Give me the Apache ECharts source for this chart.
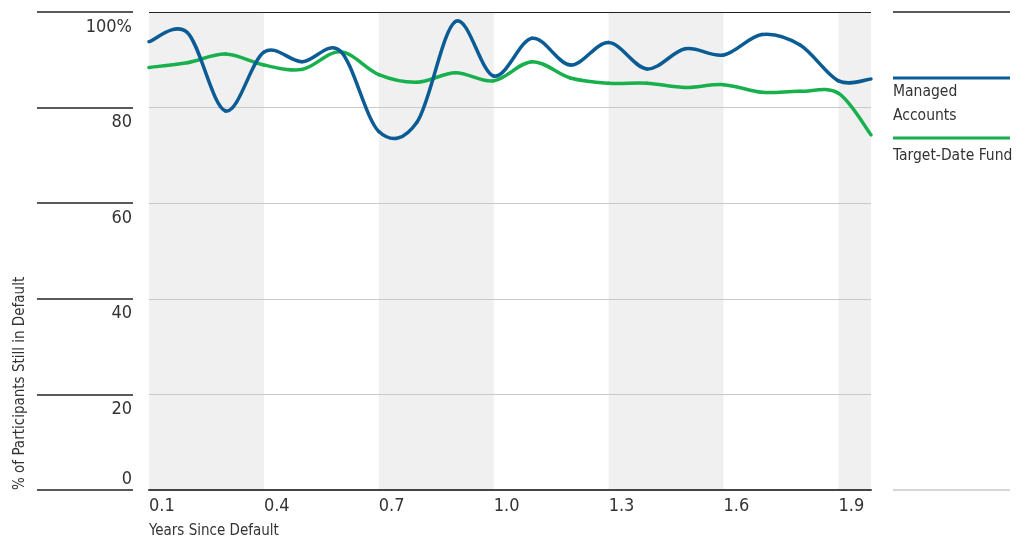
<!DOCTYPE html>
<html>
<head>
<meta charset="utf-8">
<script src="https://cdn.jsdelivr.net/npm/echarts@6/dist/echarts.min.js"></script>
<style>
  html, body { margin: 0; padding: 0; background: #fff; }
  #chart { width: 1024px; height: 542px; }
</style>
</head>
<body>
<div id="chart"></div>
<script>
// Years since default (x positions of the samples)
const years = [0.1, 0.2, 0.3, 0.4, 0.5, 0.6, 0.7, 0.8, 0.9, 1.0,
               1.1, 1.2, 1.3, 1.4, 1.5, 1.6, 1.7, 1.8, 1.9, 1.985];
// % of participants still in default
const managedAccounts = [93.8, 95.7, 79.3, 91.6, 89.6, 91.8, 75.0, 77.0, 98.0, 86.6,
                         94.5, 88.9, 93.6, 88.1, 92.3, 91.0, 95.3, 93.1, 85.6, 86.0];
const targetDateFund  = [88.4, 89.4, 91.2, 88.9, 88.0, 91.7, 86.9, 85.3, 87.3, 85.6,
                         89.6, 86.2, 85.1, 85.1, 84.2, 84.8, 83.2, 83.4, 83.0, 74.3];
const seriesNames = ['Managed\nAccounts', 'Target-Date Fund'];
const seriesColors = ['#0b5c95', '#17b04c'];
const xTitle = 'Years Since Default';
const yTitle = '% of Participants Still in Default';

const FONT = "'Liberation Sans Narrow', 'DejaVu Sans Condensed', sans-serif";
const TXT = '#333';

const chart = echarts.init(document.getElementById('chart'), null, { renderer: 'canvas' });

const pairs = vals => vals.map((v, i) => [years[i], v]);

// Each item draws the Catmull-Rom segment from its point to the next one,
// with all positions taken from the cartesian axes.
function splineSeries(name, vals, color, z) {
  const n = vals.length;
  return {
    name: name, type: 'custom', coordinateSystem: 'cartesian2d',
    xAxisIndex: 0, yAxisIndex: 0, z: z,
    encode: { x: 0, y: 1 },
    data: pairs(vals),
    renderItem: function (params, api) {
      const i = params.dataIndex;
      if (i >= n - 1) return null;
      const P = k => {
        const j = Math.max(0, Math.min(n - 1, k));
        return api.coord([years[j], vals[j]]);
      };
      const p0 = P(i - 1), p1 = P(i), p2 = P(i + 1), p3 = P(i + 2);
      return {
        type: 'bezierCurve',
        shape: {
          x1: p1[0], y1: p1[1],
          cpx1: p1[0] + (p2[0] - p0[0]) / 6, cpy1: p1[1] + (p2[1] - p0[1]) / 6,
          cpx2: p2[0] - (p3[0] - p1[0]) / 6, cpy2: p2[1] - (p3[1] - p1[1]) / 6,
          x2: p2[0], y2: p2[1]
        },
        style: { stroke: color, lineWidth: 3.5, fill: 'none', lineCap: 'round' }
      };
    }
  };
}

const option = {
  animation: false,
  backgroundColor: '#fff',
  grid: [
    // main plot
    { left: 149, top: 12, width: 722, height: 478, outerBoundsMode: 'none', containLabel: false },
    // tick rules and labels on the left
    { left: 37, top: 12, width: 96, height: 478, outerBoundsMode: 'none', containLabel: false },
    // rules framing the legend on the right
    { left: 893, top: 12, width: 117, height: 478, outerBoundsMode: 'none', containLabel: false }
  ],
  xAxis: [
    {
      gridIndex: 0, type: 'value', min: 0.1, max: 1.985, interval: 0.3, z: 0,
      axisLine: { show: true, lineStyle: { color: '#444', width: 2 } },
      axisTick: { show: false },
      splitLine: { show: false },
      splitArea: { show: true, areaStyle: { color: ['#f0f0f0', 'rgba(255,255,255,0)'] } },
      axisLabel: {
        show: true, align: 'left', margin: 7, showMaxLabel: false,
        fontFamily: FONT, fontSize: 18, color: TXT,
        formatter: v => v.toFixed(1)
      }
    },
    { gridIndex: 1, type: 'value', min: 0, max: 1, show: false },
    { gridIndex: 2, type: 'value', min: 0, max: 1, show: false }
  ],
  yAxis: [
    {
      gridIndex: 0, type: 'value', min: 0, max: 100, interval: 20, z: 1,
      axisLine: { show: false }, axisTick: { show: false }, axisLabel: { show: false },
      splitLine: { show: true, lineStyle: { color: ['#444', '#c8c8c8', '#c8c8c8', '#c8c8c8', '#c8c8c8', '#222'], width: 1.2 } }
    },
    {
      // rules and labels hanging below each rule
      gridIndex: 1, type: 'value', min: 0, max: 100, interval: 20, position: 'right',
      axisLine: { show: false }, axisTick: { show: false },
      splitLine: { show: true, lineStyle: { color: '#222', width: 1.5 } },
      axisLabel: {
        inside: true, margin: 1, verticalAlign: 'top', padding: [6, 0, 0, 0],
        fontFamily: FONT, fontSize: 18, color: TXT,
        formatter: v => v === 0 ? '' : (v === 100 ? v + '%' : String(v))
      }
    },
    {
      // the zero label sits above its rule
      gridIndex: 1, type: 'value', min: 0, max: 100, interval: 20, position: 'right',
      axisLine: { show: false }, axisTick: { show: false }, splitLine: { show: false },
      axisLabel: {
        inside: true, margin: 1, verticalAlign: 'bottom', padding: [0, 0, 2, 0],
        fontFamily: FONT, fontSize: 18, color: TXT,
        formatter: v => v === 0 ? '0' : ''
      }
    },
    {
      gridIndex: 2, type: 'value', min: 0, max: 100, interval: 100,
      axisLine: { show: false }, axisTick: { show: false }, axisLabel: { show: false },
      splitLine: { show: true, lineStyle: { color: ['#c8c8c8', '#222'], width: 1.5 } }
    }
  ],
  series: [
    splineSeries(seriesNames[0], managedAccounts, seriesColors[0], 4),
    splineSeries(seriesNames[1], targetDateFund, seriesColors[1], 3)
  ],
  graphic: [
    // legend on the right
    { type: 'line', shape: { x1: 893, y1: 78, x2: 1010, y2: 78 }, style: { stroke: seriesColors[0], lineWidth: 3 } },
    { type: 'text', x: 893, y: 80, style: { text: seriesNames[0], font: '15.5px ' + FONT, fill: TXT, textAlign: 'left', textVerticalAlign: 'top', lineHeight: 24 } },
    { type: 'line', shape: { x1: 893, y1: 138, x2: 1010, y2: 138 }, style: { stroke: seriesColors[1], lineWidth: 3 } },
    { type: 'text', x: 893, y: 144, style: { text: seriesNames[1], font: '15.5px ' + FONT, fill: TXT, textAlign: 'left', textVerticalAlign: 'top', lineHeight: 24 } },
    // axis titles
    { type: 'text', x: 149, y: 531, style: { text: xTitle, font: '15px ' + FONT, fill: TXT, textAlign: 'left', textVerticalAlign: 'middle' } },
    { type: 'text', x: 20, y: 490, rotation: Math.PI / 2, style: { text: yTitle, font: '15px ' + FONT, fill: TXT, textAlign: 'left', textVerticalAlign: 'middle' } }
  ]
};

chart.setOption(option);
</script>
</body>
</html>
